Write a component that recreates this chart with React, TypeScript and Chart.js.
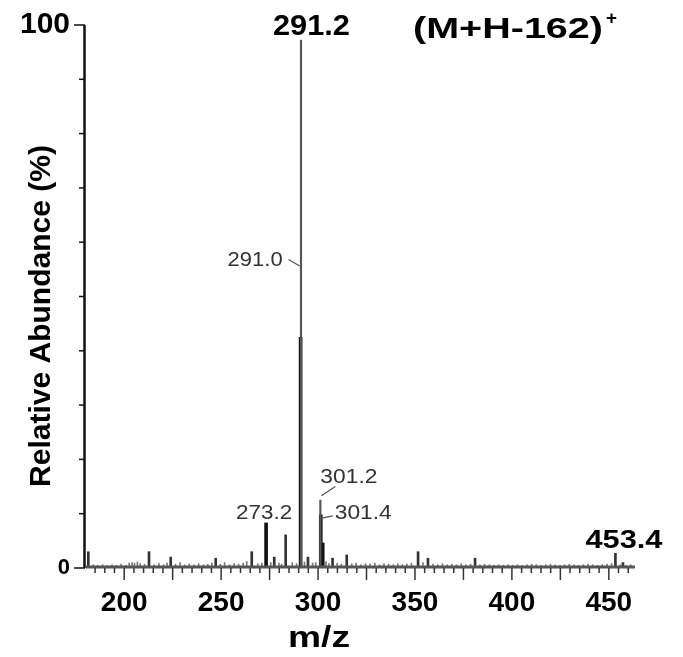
import React, { useEffect, useRef } from 'react';
import { Chart, registerables } from 'chart.js';

Chart.register(...registerables);

const FONT = '"Liberation Sans", Arial, Helvetica, sans-serif';

// Axis ranges and labelled ticks
const X_MIN = 180.3;
const X_MAX = 463.5;
const X_LABELS = [200, 250, 300, 350, 400, 450];
const Y_LABELS = [0, 100];

// Strong ions drawn as heavy sticks
const MAJOR_MZ = [273.2, 291.0, 301.4, 302.4];
const MAJOR_INT = [8.3, 42.5, 9.8, 4.6];

// Fine sticks (base peak and 301.2 shoulder)
const THIN_MZ = [291.2, 301.2];
const THIN_INT = [97.2, 12.5];

// Smaller fragment ions
const MINOR_MZ = [181.5, 212.8, 224.0, 247.2, 265.8, 277.4, 283.3, 294.8, 307.5, 314.8, 351.6, 356.7, 381.0, 453.4, 457.3];
const MINOR_INT = [3.0, 3.0, 2.0, 1.8, 3.0, 2.0, 6.1, 2.0, 1.8, 2.4, 3.0, 1.8, 1.8, 2.7, 1.0];

// Baseline noise
const NOISE_MZ = [
  184.1, 186.3, 188.9, 191.2, 193.7, 196.0, 198.4, 200.9, 202.6, 204.1, 205.3, 206.8, 208.2, 210.5,
  215.4, 217.9, 220.3, 222.1, 226.5, 228.8, 231.2, 233.5, 236.0, 238.4, 240.9, 243.1, 245.2, 249.6,
  251.8, 254.3, 256.7, 259.0, 261.4, 263.2, 268.9, 271.0, 275.6, 279.8, 281.2, 286.7, 288.9, 293.0,
  297.2, 298.8, 304.1, 305.6, 309.9, 312.0, 317.4, 319.6, 322.1, 324.5, 326.8, 329.3, 331.7, 334.0,
  336.4, 338.8, 341.1, 343.5, 345.8, 348.2, 354.1, 359.3, 361.8, 364.2, 366.6, 369.0, 371.4, 373.9,
  376.3, 378.7, 383.5, 385.9, 388.4, 390.8, 393.2, 395.6, 398.1, 400.5, 402.9, 405.3, 407.8, 410.2,
  412.6, 415.0, 417.5, 419.9, 422.3, 424.8, 427.2, 429.6, 432.0, 434.5, 436.9, 439.3, 441.7, 444.2,
  446.6, 449.0, 451.4, 456.0, 458.9, 461.3,
];
const NOISE_INT = [
  0.6, 0.5, 0.6, 0.5, 0.6, 0.5, 0.7, 0.5, 0.9, 1.0, 0.9, 1.1, 0.8, 0.7,
  0.6, 0.8, 0.6, 0.9, 0.7, 1.0, 0.6, 0.7, 0.6, 0.8, 0.6, 0.7, 0.9, 0.7,
  1.0, 0.6, 0.8, 0.7, 0.9, 1.2, 0.8, 0.9, 1.0, 0.9, 0.7, 1.0, 0.8, 1.1,
  0.9, 1.0, 1.2, 0.8, 0.9, 0.7, 0.8, 0.9, 0.6, 0.8, 0.7, 0.9, 0.6, 0.8,
  0.7, 0.6, 0.8, 0.6, 0.7, 0.9, 1.0, 0.7, 0.6, 0.8, 0.6, 0.7, 0.6, 0.8,
  0.6, 0.7, 0.6, 0.7, 0.6, 0.5, 0.6, 0.5, 0.6, 0.5, 0.6, 0.5, 0.6, 0.7,
  0.6, 0.5, 0.6, 0.7, 0.6, 0.5, 0.6, 0.7, 0.6, 0.5, 0.6, 0.7, 0.6, 0.5,
  0.6, 0.7, 0.8, 0.6, 0.5, 0.6,
];

const pts = (mz: number[], ints: number[]) => mz.map((x, i) => ({ x, y: ints[i] }));

// Draw text squeezed/stretched to a given width
function fitText(ctx: CanvasRenderingContext2D, text: string, x: number, y: number, font: string, width: number, color: string) {
  ctx.save();
  ctx.font = font;
  ctx.fillStyle = color;
  ctx.textAlign = 'left';
  ctx.textBaseline = 'alphabetic';
  const w = ctx.measureText(text).width;
  ctx.translate(x, y);
  ctx.scale(width / w, 1);
  ctx.fillText(text, 0, 0);
  ctx.restore();
}

function line(ctx: CanvasRenderingContext2D, pts: number[][], color: string, w: number) {
  ctx.save();
  ctx.strokeStyle = color;
  ctx.lineWidth = w;
  ctx.beginPath();
  pts.forEach(([x, y], i) => (i ? ctx.lineTo(x, y) : ctx.moveTo(x, y)));
  ctx.stroke();
  ctx.restore();
}

const decorPlugin = {
  id: 'spectrumDecor',
  afterDraw(chart: any) {
    const ctx: CanvasRenderingContext2D = chart.ctx;
    const xs = chart.scales.x;
    const ys = chart.scales.y;
    const { left, right, top, bottom } = chart.chartArea;
    const px = (v: number) => xs.getPixelForValue(v);
    const py = (v: number) => ys.getPixelForValue(v);

    // y axis and ticks
    line(ctx, [[left - 1.5, top], [left - 1.5, bottom]], '#111', 2.5);
    for (let v = 0; v <= 100; v += 10) {
      const len = v === 0 || v === 100 ? 10 : 5;
      line(ctx, [[left - 2 - len, py(v)], [left - 1, py(v)]], '#111', 1.5);
    }
    // x baseline and ticks
    line(ctx, [[left, bottom - 1], [right, bottom - 1]], '#555', 3);
    for (let v = 185; v <= 460; v += 5) {
      const len = v % 25 === 0 ? 12 : 5;
      line(ctx, [[px(v), bottom], [px(v), bottom + len]], '#333', 1.5);
    }

    // peak annotations
    const big = `bold 30px ${FONT}`;
    fitText(ctx, '291.2', px(291.2) - 28, 35, big, 77, '#000');
    fitText(ctx, '(M+H-162)', 413, 38, big, 190, '#000');
    fitText(ctx, '+', 606, 24, `bold 18px ${FONT}`, 11, '#000');
    fitText(ctx, '453.4', px(453.4) - 30, py(3.7), `bold 26px ${FONT}`, 77, '#000');

    const small = `20px ${FONT}`;
    const grey = '#333';
    fitText(ctx, '291.0', px(291.0) - 73, py(55.7), small, 55, grey);
    line(ctx, [[px(291.0) - 12, py(56.8)], [px(291.0) - 1, py(55.6)]], '#555', 1.2);

    fitText(ctx, '273.2', px(273.2) - 30, py(9.1), small, 56, grey);

    fitText(ctx, '301.2', px(301.2) + 0, py(15.6), small, 57, grey);
    line(ctx, [[px(301.2) + 15, py(15.0)], [px(301.2) + 1, py(13.3)]], '#555', 1.2);

    fitText(ctx, '301.4', px(301.4) + 14, py(9.0), small, 57, grey);
    line(ctx, [[px(301.4) + 12, py(9.6)], [px(301.4) + 1, py(9.2)]], '#555', 1.2);

    // axis titles
    fitText(ctx, 'm/z', 288, 647, `bold 30px ${FONT}`, 62, '#000');
    ctx.save();
    ctx.translate(50, 316);
    ctx.rotate(-Math.PI / 2);
    ctx.font = `bold 30px ${FONT}`;
    ctx.fillStyle = '#000';
    ctx.textAlign = 'center';
    ctx.textBaseline = 'alphabetic';
    const title = 'Relative Abundance (%)';
    const tw = ctx.measureText(title).width;
    ctx.scale(342 / tw, 1);
    ctx.fillText(title, 0, 0);
    ctx.restore();
  },
};

export default function App() {
  const ref = useRef<HTMLCanvasElement>(null);

  useEffect(() => {
    if (!ref.current) return;
    const chart = new Chart(ref.current, {
      type: 'bar',
      data: {
        datasets: [
          { data: pts(NOISE_MZ, NOISE_INT), backgroundColor: '#777', barThickness: 1, grouped: false } as any,
          { data: pts(MINOR_MZ, MINOR_INT), backgroundColor: '#333', barThickness: 2, grouped: false } as any,
          { data: pts(THIN_MZ, THIN_INT), backgroundColor: '#555', barThickness: 1.5, grouped: false } as any,
          { data: pts(MAJOR_MZ, MAJOR_INT), backgroundColor: '#111', barThickness: 3, grouped: false } as any,
        ],
      },
      options: {
        animation: false,
        responsive: false,
        maintainAspectRatio: false,
        layout: { padding: { top: 25, right: 48, bottom: 0, left: 0 } },
        plugins: { legend: { display: false }, tooltip: { enabled: false } },
        scales: {
          x: {
            type: 'linear',
            min: X_MIN,
            max: X_MAX,
            bounds: 'data',
            offset: false,
            grid: { display: false, drawTicks: false, offset: false },
            border: { display: false },
            ticks: {
              autoSkip: false,
              maxRotation: 0,
              padding: 18,
              color: '#000',
              font: { family: FONT, size: 28, weight: 'bold' },
              callback: (v: any) => String(v),
            },
            afterBuildTicks: (s: any) => {
              s.ticks = X_LABELS.map((value) => ({ value }));
            },
            afterFit: (s: any) => {
              s.height = 89;
              s.paddingLeft = 0;
              s.paddingRight = 0;
            },
          },
          y: {
            min: 0,
            max: 100,
            grid: { display: false, drawTicks: false },
            border: { display: false },
            ticks: {
              padding: 16,
              color: '#000',
              font: (c: any) => ({ family: FONT, size: c.tick && c.tick.value === 100 ? 30 : 22, weight: 'bold' }),
              callback: (v: any) => String(v),
            },
            afterBuildTicks: (s: any) => {
              s.ticks = Y_LABELS.map((value) => ({ value }));
            },
            afterFit: (s: any) => {
              s.width = 86;
              s.paddingTop = 0;
              s.paddingBottom = 0;
            },
          },
        },
      } as any,
      plugins: [decorPlugin],
    });
    return () => chart.destroy();
  }, []);

  return (
    <div style={{ position: 'absolute', left: 0, top: 0, width: 683, height: 657, background: '#fff' }}>
      <canvas ref={ref} width={683} height={657} style={{ display: 'block', width: 683, height: 657 }} />
    </div>
  );
}
